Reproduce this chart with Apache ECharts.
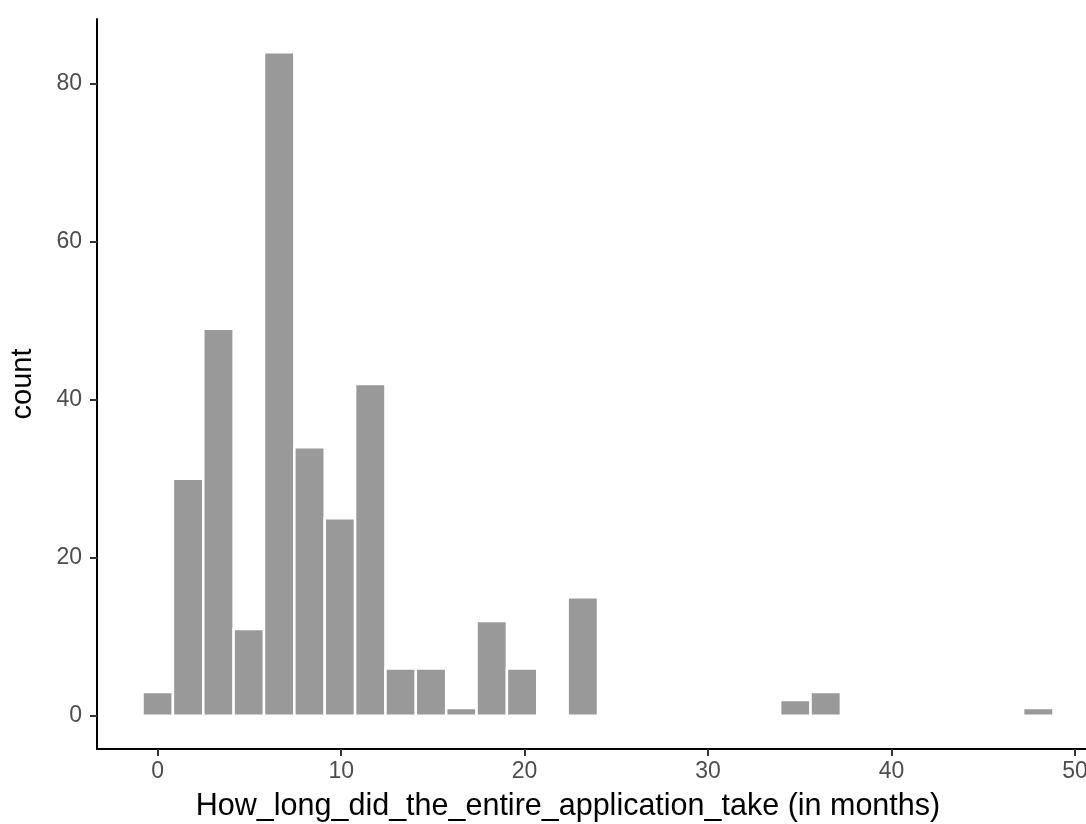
<!DOCTYPE html>
<html>
<head>
<meta charset="utf-8">
<script src="https://cdn.jsdelivr.net/npm/echarts@6/dist/echarts.min.js"></script>
<style>
  html, body { margin: 0; padding: 0; background: #ffffff; }
  #chart { width: 1086px; height: 824px; }
</style>
</head>
<body>
<div id="chart"></div>
<script>
// Histogram of application durations: 30 bins spanning 0..48 months
const binCount = 30;
const dataMin = 0;
const dataMax = 48;
const counts = [3, 30, 49, 11, 84, 34, 25, 42, 6, 6, 1, 12, 6, 0, 15,
                0, 0, 0, 0, 0, 0, 2, 3, 0, 0, 0, 0, 0, 0, 1];
const xTicks = [0, 10, 20, 30, 40, 50];
const yTicks = [0, 20, 40, 60, 80];

const binWidth = (dataMax - dataMin) / (binCount - 1);
const binCenters = counts.map((_, i) => dataMin + i * binWidth);
const barData = counts.map((c, i) => [binCenters[i] - binWidth / 2, binCenters[i] + binWidth / 2, c]);

// 5% expansion of both scales
const xLo = dataMin - binWidth / 2, xHi = dataMax + binWidth / 2;
const xPad = (xHi - xLo) * 0.05;
const yMax = Math.max(...counts);
const yPad = yMax * 0.05;

const chart = echarts.init(document.getElementById('chart'), null, { renderer: 'canvas' });
const font = 'Liberation Sans, Arial, sans-serif';

chart.setOption({
  animation: false,
  backgroundColor: '#ffffff',
  grid: { left: 97, right: -13, top: 19, bottom: 75, containLabel: false, outerBoundsMode: 'none' },
  xAxis: {
    type: 'value',
    min: xLo - xPad,
    max: xHi + xPad,
    splitLine: { show: false },
    axisLine: { show: true, onZero: false, lineStyle: { color: '#000000', width: 2 } },
    axisTick: { show: true, length: 7, lineStyle: { color: '#333333', width: 2 }, customValues: xTicks },
    axisLabel: { show: true, color: '#4D4D4D', fontSize: 23, fontFamily: font, margin: 11, customValues: xTicks,
                 showMinLabel: true, showMaxLabel: true },
    name: 'How_long_did_the_entire_application_take (in months)',
    nameLocation: 'middle',
    nameGap: 42,
    nameTextStyle: { color: '#000000', fontSize: 30.5, fontFamily: font, padding: [0, 60, 0, 0] }
  },
  yAxis: {
    type: 'value',
    min: -yPad,
    max: yMax + yPad,
    splitLine: { show: false },
    axisLine: { show: true, onZero: false, lineStyle: { color: '#000000', width: 2 } },
    axisTick: { show: true, length: 7, lineStyle: { color: '#333333', width: 2 }, customValues: yTicks },
    axisLabel: { show: true, color: '#4D4D4D', fontSize: 23, fontFamily: font, margin: 15, customValues: yTicks },
    name: 'count',
    nameLocation: 'middle',
    nameGap: 60,
    nameRotate: 90,
    nameTextStyle: { color: '#000000', fontSize: 29, fontFamily: font }
  },
  series: [{
    type: 'custom',
    data: barData,
    encode: { x: [0, 1], y: 2 },
    renderItem: function (params, api) {
      const c = api.value(2);
      if (!c) return null;
      const p0 = api.coord([api.value(0), c]);
      const p1 = api.coord([api.value(1), 0]);
      return {
        type: 'rect',
        shape: { x: p0[0], y: p0[1], width: p1[0] - p0[0], height: p1[1] - p0[1] },
        style: { fill: '#999999', stroke: '#ffffff', lineWidth: 2.5 }
      };
    }
  }]
});
</script>
</body>
</html>
